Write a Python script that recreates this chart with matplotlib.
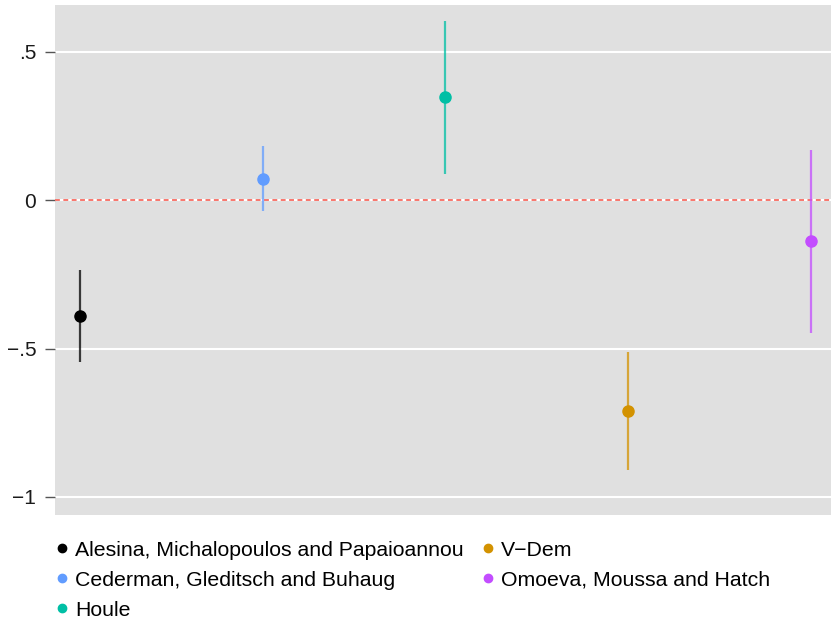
import numpy as np
import matplotlib
matplotlib.use('Agg')
import matplotlib.pyplot as plt
from matplotlib.lines import Line2D

plt.rcParams['font.family'] = ['Liberation Sans', 'DejaVu Sans']

# Data sources and their estimates (with confidence intervals)
labels = ['Alesina, Michalopoulos and Papaioannou',
          'Cederman, Gleditsch and Buhaug',
          'Houle',
          'V\u2212Dem',
          'Omoeva, Moussa and Hatch']
estimates = [-0.39, 0.072, 0.347, -0.71, -0.138]
ci_low = [-0.545, -0.037, 0.087, -0.909, -0.448]
ci_high = [-0.237, 0.182, 0.603, -0.512, 0.168]
colors = ['#000000', '#619CFF', '#00BFA5', '#D39200', '#C34DFF']

yticks = [0.5, 0, -0.5, -1]
yticklabels = ['.5', '0', '\u2212.5', '\u22121']

fig = plt.figure(figsize=(8.31, 6.21), dpi=100)
ax = fig.add_axes([0.0662, 0.171, 0.9338, 0.821])
ax.set_facecolor('#E0E0E0')

xs = np.arange(1, len(labels) + 1)
for x, est, lo, hi, c in zip(xs, estimates, ci_low, ci_high, colors):
	ax.plot([x, x], [lo, hi], color=c, lw=1.6, alpha=0.75, solid_capstyle='butt', zorder=3)
	ax.plot(x, est, 'o', color=c, ms=8, zorder=4)

ax.axhline(0, color='#F8766D', ls=(0, (2.5, 1.8)), lw=1.4, zorder=2)

ax.set_yticks(yticks)
ax.set_yticklabels(yticklabels, fontsize=15, color='#1a1a1a')
ax.yaxis.grid(True, color='white', lw=1.5, zorder=0)
ax.set_axisbelow(True)
ax.set_xticks([])
ax.tick_params(axis='y', length=7.5, width=1, color='#555555', pad=6)
ax.set_xlim(0.863, 5.11)
ax.set_ylim(-1.06, 0.657)
for s in ax.spines.values():
	s.set_visible(False)

# Legend below the panel
handles = [Line2D([], [], marker='o', ls='', color=c, ms=6) for c in colors]
fig.legend(handles, labels, ncol=2, frameon=False, fontsize=15.3,
           loc='upper left', bbox_to_anchor=(0.053, 0.143),
           handletextpad=0.15, columnspacing=0.7, labelspacing=0.52,
           handlelength=0.9, borderaxespad=0)

fig.savefig('out.png', dpi=100)
